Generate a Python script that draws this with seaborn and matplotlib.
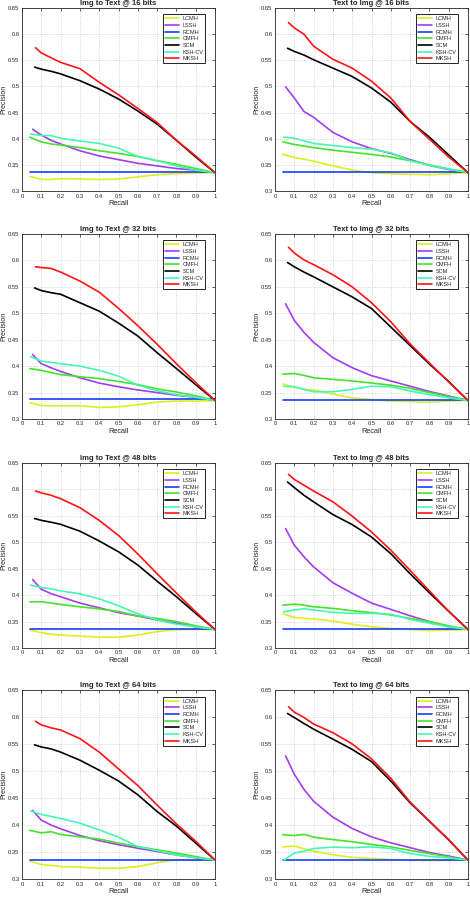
import numpy as np
import pandas as pd
import matplotlib
matplotlib.use("Agg")
import matplotlib.pyplot as plt
from matplotlib.ticker import FormatStrFormatter
import seaborn as sns

# Methods, colours and recall grid
methods = ['LCMH', 'LSSH', 'RCMH', 'CMFH', 'SCM', 'KSH-CV', 'MKSH']
colors = ['#dcf01c', '#a43cf0', '#1a3cff', '#44e22c', '#000000', '#44f8b4', '#ff1414']
start_recall = [0.04, 0.055, 0.04, 0.04, 0.065, 0.045, 0.07]
recall_grid = [0.1, 0.15, 0.2, 0.3, 0.4, 0.5, 0.6, 0.7, 0.8, 0.9, 1.0]

# precision: first value at start_recall, then at recall_grid
i2t_16 = [
    [0.328, 0.322, 0.322, 0.3237, 0.323, 0.322, 0.323, 0.327, 0.331, 0.333, 0.334, 0.335],
    [0.418, 0.407, 0.397, 0.390, 0.377, 0.367, 0.360, 0.353, 0.348, 0.343, 0.340, 0.335],
    [0.336, 0.336, 0.336, 0.336, 0.336, 0.336, 0.336, 0.336, 0.336, 0.336, 0.336, 0.336],
    [0.403, 0.394, 0.390, 0.388, 0.383, 0.377, 0.372, 0.366, 0.358, 0.351, 0.343, 0.335],
    [0.537, 0.533, 0.529, 0.524, 0.511, 0.495, 0.476, 0.453, 0.428, 0.397, 0.365, 0.335],
    [0.409, 0.406, 0.406, 0.401, 0.3955, 0.391, 0.382, 0.366, 0.358, 0.348, 0.340, 0.335],
    [0.574, 0.564, 0.555, 0.546, 0.534, 0.508, 0.484, 0.458, 0.431, 0.397, 0.367, 0.335],
]
t2i_16 = [
    [0.370, 0.364, 0.361, 0.357, 0.348, 0.340, 0.335, 0.333, 0.332, 0.331, 0.333, 0.335],
    [0.499, 0.478, 0.452, 0.441, 0.412, 0.394, 0.381, 0.372, 0.360, 0.349, 0.341, 0.335],
    [0.336, 0.336, 0.336, 0.336, 0.336, 0.336, 0.336, 0.336, 0.336, 0.336, 0.336, 0.336],
    [0.394, 0.389, 0.386, 0.383, 0.378, 0.374, 0.370, 0.365, 0.358, 0.350, 0.342, 0.335],
    [0.573, 0.567, 0.560, 0.551, 0.535, 0.519, 0.497, 0.470, 0.433, 0.403, 0.369, 0.335],
    [0.403, 0.401, 0.396, 0.391, 0.387, 0.383, 0.380, 0.373, 0.358, 0.349, 0.342, 0.335],
    [0.622, 0.612, 0.600, 0.577, 0.552, 0.535, 0.510, 0.478, 0.433, 0.399, 0.365, 0.335],
]
i2t_32 = [
    [0.331, 0.3255, 0.325, 0.325, 0.325, 0.322, 0.323, 0.327, 0.332, 0.334, 0.334, 0.335],
    [0.422, 0.4045, 0.397, 0.390, 0.378, 0.368, 0.361, 0.355, 0.350, 0.345, 0.341, 0.335],
    [0.337, 0.337, 0.337, 0.337, 0.337, 0.337, 0.337, 0.337, 0.337, 0.337, 0.337, 0.337],
    [0.3955, 0.392, 0.388, 0.384, 0.380, 0.3765, 0.371, 0.365, 0.357, 0.351, 0.344, 0.335],
    [0.548, 0.543, 0.539, 0.536, 0.520, 0.504, 0.4815, 0.457, 0.4255, 0.3955, 0.365, 0.335],
    [0.418, 0.4095, 0.407, 0.4045, 0.400, 0.392, 0.381, 0.364, 0.3535, 0.346, 0.341, 0.335],
    [0.588, 0.5865, 0.585, 0.578, 0.561, 0.540, 0.5095, 0.4765, 0.4415, 0.4045, 0.369, 0.335],
]
t2i_32 = [
    [0.366, 0.3605, 0.356, 0.355, 0.347, 0.340, 0.337, 0.334, 0.333, 0.332, 0.334, 0.335],
    [0.518, 0.4865, 0.464, 0.445, 0.416, 0.397, 0.382, 0.372, 0.362, 0.352, 0.3435, 0.335],
    [0.335, 0.335, 0.335, 0.335, 0.335, 0.335, 0.335, 0.335, 0.335, 0.335, 0.335, 0.335],
    [0.385, 0.386, 0.3825, 0.378, 0.375, 0.372, 0.368, 0.364, 0.358, 0.350, 0.3425, 0.335],
    [0.596, 0.588, 0.578, 0.569, 0.550, 0.531, 0.509, 0.474, 0.439, 0.404, 0.371, 0.335],
    [0.362, 0.361, 0.356, 0.3515, 0.3515, 0.356, 0.362, 0.361, 0.353, 0.346, 0.340, 0.335],
    [0.625, 0.614, 0.601, 0.592, 0.573, 0.550, 0.520, 0.484, 0.442, 0.406, 0.370, 0.335],
]
i2t_48 = [
    [0.334, 0.329, 0.326, 0.3245, 0.3225, 0.3205, 0.3205, 0.3245, 0.331, 0.335, 0.335, 0.335],
    [0.4295, 0.411, 0.403, 0.397, 0.385, 0.376, 0.367, 0.3605, 0.353, 0.347, 0.340, 0.335],
    [0.3355, 0.3355, 0.3355, 0.3355, 0.3355, 0.3355, 0.3355, 0.3355, 0.3355, 0.3355, 0.3355, 0.3355],
    [0.3875, 0.3875, 0.385, 0.3825, 0.378, 0.374, 0.369, 0.3605, 0.356, 0.350, 0.342, 0.335],
    [0.545, 0.5415, 0.538, 0.534, 0.521, 0.5025, 0.482, 0.457, 0.4265, 0.397, 0.3655, 0.335],
    [0.419, 0.4145, 0.412, 0.408, 0.4025, 0.393, 0.380, 0.3645, 0.353, 0.345, 0.340, 0.335],
    [0.597, 0.5935, 0.589, 0.5825, 0.5655, 0.5415, 0.513, 0.478, 0.4405, 0.404, 0.3685, 0.335],
]
t2i_48 = [
    [0.3645, 0.358, 0.356, 0.355, 0.351, 0.345, 0.340, 0.337, 0.335, 0.333, 0.334, 0.335],
    [0.526, 0.4945, 0.4725, 0.4535, 0.4235, 0.4035, 0.385, 0.373, 0.361, 0.350, 0.340, 0.335],
    [0.335, 0.335, 0.335, 0.335, 0.335, 0.335, 0.335, 0.335, 0.335, 0.335, 0.335, 0.335],
    [0.381, 0.383, 0.381, 0.378, 0.375, 0.3705, 0.367, 0.3625, 0.356, 0.350, 0.342, 0.335],
    [0.614, 0.6035, 0.589, 0.5765, 0.5525, 0.5335, 0.510, 0.4785, 0.4405, 0.4045, 0.3695, 0.335],
    [0.3685, 0.372, 0.374, 0.372, 0.3675, 0.3655, 0.3655, 0.364, 0.354, 0.347, 0.340, 0.335],
    [0.6285, 0.619, 0.608, 0.597, 0.5765, 0.5495, 0.5195, 0.485, 0.447, 0.408, 0.3695, 0.335],
]
i2t_64 = [
    [0.333, 0.327, 0.325, 0.323, 0.322, 0.320, 0.320, 0.323, 0.330, 0.3355, 0.3355, 0.335],
    [0.427, 0.409, 0.400, 0.393, 0.3805, 0.371, 0.3635, 0.357, 0.351, 0.3445, 0.3395, 0.335],
    [0.3355, 0.3355, 0.3355, 0.3355, 0.3355, 0.3355, 0.3355, 0.3355, 0.3355, 0.3355, 0.3355, 0.3355],
    [0.390, 0.3855, 0.3875, 0.3825, 0.378, 0.374, 0.3665, 0.360, 0.354, 0.348, 0.3415, 0.335],
    [0.5485, 0.5445, 0.541, 0.535, 0.520, 0.5015, 0.4815, 0.456, 0.425, 0.398, 0.3665, 0.335],
    [0.426, 0.4195, 0.416, 0.412, 0.4035, 0.391, 0.3775, 0.360, 0.3525, 0.3445, 0.3395, 0.335],
    [0.592, 0.5855, 0.580, 0.576, 0.560, 0.535, 0.504, 0.473, 0.437, 0.402, 0.370, 0.335],
]
t2i_64 = [
    [0.3595, 0.361, 0.356, 0.3515, 0.345, 0.340, 0.338, 0.336, 0.3345, 0.334, 0.3345, 0.335],
    [0.528, 0.494, 0.466, 0.444, 0.4145, 0.3935, 0.378, 0.367, 0.358, 0.349, 0.3425, 0.335],
    [0.3355, 0.3355, 0.3355, 0.3355, 0.3355, 0.3355, 0.3355, 0.3355, 0.3355, 0.3355, 0.3355, 0.3355],
    [0.382, 0.3805, 0.3825, 0.3775, 0.373, 0.369, 0.364, 0.3595, 0.353, 0.347, 0.341, 0.335],
    [0.6065, 0.599, 0.588, 0.5775, 0.559, 0.540, 0.5175, 0.4815, 0.441, 0.407, 0.3725, 0.335],
    [0.3345, 0.348, 0.3515, 0.3565, 0.359, 0.358, 0.3595, 0.3565, 0.347, 0.342, 0.339, 0.335],
    [0.619, 0.609, 0.599, 0.587, 0.571, 0.550, 0.5225, 0.4865, 0.4425, 0.407, 0.3725, 0.335],
]

panels = [
    ('Img to Text @ 16 bits', i2t_16), ('Text to Img @ 16 bits', t2i_16),
    ('Img to Text @ 32 bits', i2t_32), ('Text to Img @ 32 bits', t2i_32),
    ('Img to Text @ 48 bits', i2t_48), ('Text to Img @ 48 bits', t2i_48),
    ('Img to Text @ 64 bits', i2t_64), ('Text to Img @ 64 bits', t2i_64),
]

sns.set_style('whitegrid')
plt.rcParams['font.family'] = ['Liberation Sans', 'DejaVu Sans']

W, H = 470, 898
fig = plt.figure(figsize=(W / 100, H / 100), dpi=100)

# axes boxes in pixels: (left, top, right, bottom)
col_x = [(22, 215), (275, 468)]
row_y = [(8, 191), (234, 419), (463, 648), (690, 879)]
ylabel_px = [7, 260]

for i, (title, values) in enumerate(panels):
    r, c = divmod(i, 2)
    x0, x1 = col_x[c]
    y0, y1 = row_y[r]
    ax = fig.add_axes([x0 / W, 1 - y1 / H, (x1 - x0) / W, (y1 - y0) / H])

    for m, name in enumerate(methods):
        rec = [start_recall[m]] + recall_grid
        sns.lineplot(x=rec, y=values[m], color=colors[m], linewidth=1.2,
                     label=name, sort=False, ax=ax)

    ax.set_xlim(0, 1)
    ax.set_ylim(0.3, 0.65)
    ax.set_xticks(np.arange(0, 1.01, 0.1))
    ax.set_yticks(np.arange(0.3, 0.651, 0.05))
    ax.xaxis.set_major_formatter(FormatStrFormatter('%g'))
    ax.yaxis.set_major_formatter(FormatStrFormatter('%g'))
    ax.tick_params(labelsize=4.2, direction='in', length=2, width=0.5, pad=1.8,
                   top=True, right=True, colors='#262626')
    ax.grid(True, color='#c8c8c8', linestyle=':', linewidth=0.6)
    for s in ax.spines.values():
        s.set_color('#262626')
        s.set_linewidth(0.6)
    ax.set_title(title, fontsize=5.5, fontweight='bold', pad=2)
    ax.set_xlabel('Recall', fontsize=5.3, labelpad=1)
    ax.set_ylabel('Precision', fontsize=5.0)
    ax.yaxis.set_label_coords((ylabel_px[c] - x0) / (x1 - x0), 0.5)

    leg = ax.legend(loc='upper right', bbox_to_anchor=(0.95, 0.965), fontsize=4.0,
                    frameon=True, fancybox=False, handlelength=2.6,
                    handletextpad=0.6, borderpad=0.35, labelspacing=0.3,
                    borderaxespad=0)
    leg.get_frame().set_edgecolor('black')
    leg.get_frame().set_linewidth(0.6)
    leg.get_frame().set_alpha(1)

fig.savefig('out.png', dpi=100, facecolor='white')
